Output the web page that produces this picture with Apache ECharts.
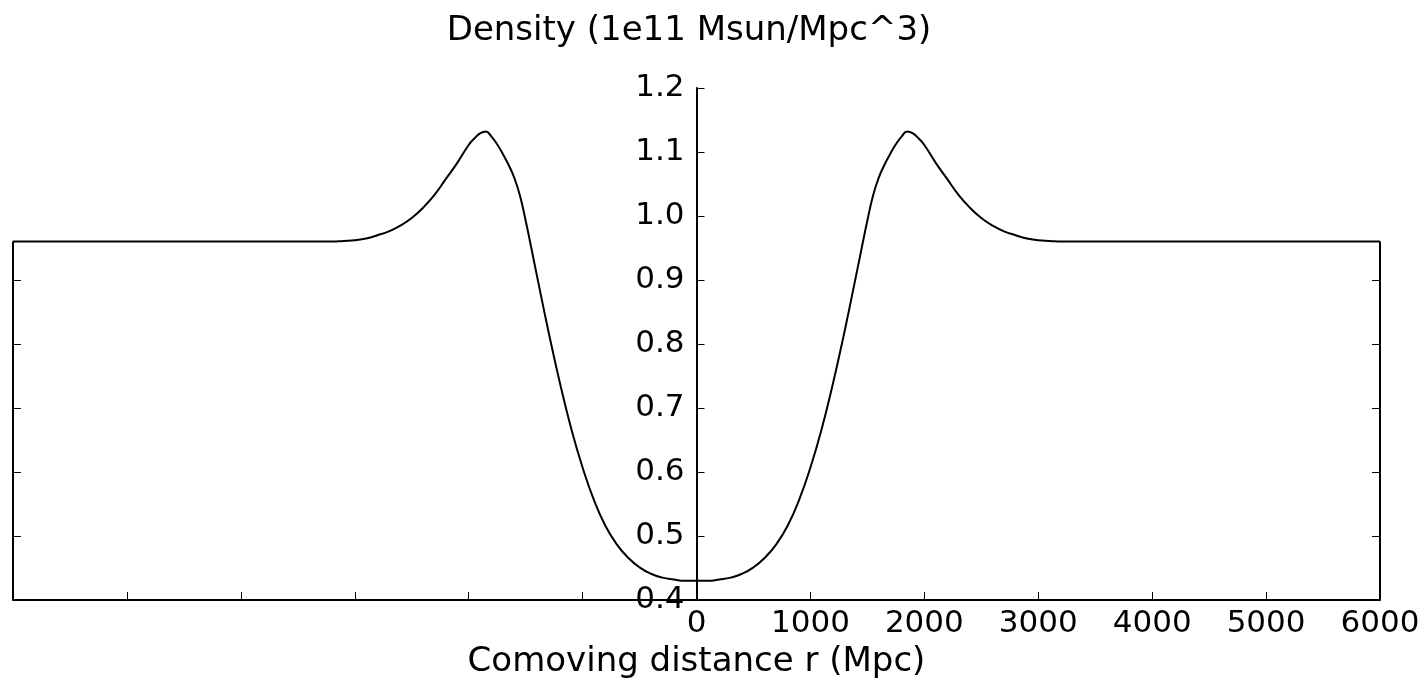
<!DOCTYPE html>
<html>
<head>
<meta charset="utf-8">
<script src="https://cdn.jsdelivr.net/npm/echarts@6/dist/echarts.min.js"></script>
<style>
html,body{margin:0;padding:0;background:#fff;}
#chart{width:1419px;height:685px;}
</style>
</head>
<body>
<div id="chart"></div>
<script>
// Comoving distance r (Mpc), right half (profile is symmetric about r = 0)
var radius = [0, 100, 200, 300, 400, 500, 600, 700, 800, 900, 1000, 1100, 1200, 1300, 1400, 1450, 1500, 1550, 1600, 1650, 1700, 1750, 1800, 1850, 1900, 1950, 2000, 2100, 2200, 2300, 2400, 2500, 2600, 2700, 2800, 2900, 3000, 3100, 3200, 3500, 4000, 5000, 6000];
// Density (1e11 Msun/Mpc^3)
var density = [0.430, 0.430, 0.432, 0.435, 0.441, 0.451, 0.466, 0.487, 0.516, 0.556, 0.607, 0.668, 0.740, 0.820, 0.906, 0.950, 0.993, 1.032, 1.060, 1.080, 1.097, 1.112, 1.124, 1.132, 1.129, 1.121, 1.111, 1.083, 1.058, 1.033, 1.013, 0.997, 0.985, 0.976, 0.970, 0.965, 0.962, 0.961, 0.960, 0.960, 0.960, 0.960, 0.960];

var xTicks = [-6000, -5000, -4000, -3000, -2000, -1000, 0, 1000, 2000, 3000, 4000, 5000, 6000];
var yTicks = [0.4, 0.5, 0.6, 0.7, 0.8, 0.9, 1.0, 1.1, 1.2];
var edgeTicks = [0.5, 0.6, 0.7, 0.8, 0.9];
var xMin = -6000, xMax = 6000, yMin = 0.4, yMax = 1.2;
var plateau = density[density.length - 1];

var titleText = 'Density (1e11 Msun/Mpc^3)';
var xName = 'Comoving distance r (Mpc)';

var curve = [];
for (var i = radius.length - 1; i > 0; i--) curve.push([-radius[i], density[i]]);
for (var j = 0; j < radius.length; j++) curve.push([radius[j], density[j]]);

var leftEdge = [[xMin, yMin], [xMin, plateau]];
var rightEdge = [[xMax, yMin], [xMax, plateau]];

var FONT = 'DejaVu Sans';
var FS = 31;   // tick labels
var NFS = 34;  // axis names

var W = 1419, GL = 13, GR = 39;
var halfWidth = (W - GL - GR) / 2;

var chart = echarts.init(document.getElementById('chart'));
chart.setOption({
  animation: false,
  backgroundColor: '#ffffff',
  grid: { left: GL, right: GR, top: 88, bottom: 85, containLabel: false, outerBoundsMode: 'none' },
  graphic: [{
    type: 'text', x: 689, y: 31,
    style: { text: titleText, font: NFS + 'px "' + FONT + '"', fill: '#000', textAlign: 'center', textVerticalAlign: 'middle' }
  }],
  xAxis: {
    type: 'value', min: xMin, max: xMax, interval: 1000,
    name: xName, nameLocation: 'middle', nameGap: 45,
    nameTextStyle: { fontFamily: FONT, fontSize: NFS, color: '#000' },
    axisLine: { onZero: false, lineStyle: { color: '#000', width: 2 } },
    axisTick: { inside: true, length: 8, lineStyle: { color: '#000', width: 1 } },
    axisLabel: {
      fontFamily: FONT, fontSize: FS, color: '#000', margin: 8,
      formatter: function (v) { return v >= 0 ? String(v) : ''; }
    },
    splitLine: { show: false }
  },
  yAxis: [{
    type: 'value', min: yMin, max: yMax, interval: 0.1, position: 'left', offset: -halfWidth,
    axisLine: { show: true, onZero: false, lineStyle: { color: '#000', width: 2 } },
    axisTick: { show: true, inside: true, length: 8, lineStyle: { color: '#000', width: 1 } },
    axisLabel: {
      fontFamily: FONT, fontSize: FS, color: '#000', margin: 12,
      formatter: function (v) { return v.toFixed(1); }
    },
    splitLine: { show: false }
  }, {
    type: 'value', min: yMin, max: yMax, interval: 0.1, position: 'left', offset: 0,
    axisLine: { show: false, onZero: false },
    axisTick: { show: true, inside: true, length: 8, customValues: edgeTicks, lineStyle: { color: '#000', width: 1 } },
    axisLabel: { show: false },
    splitLine: { show: false }
  }, {
    type: 'value', min: yMin, max: yMax, interval: 0.1, position: 'right', offset: 0,
    axisLine: { show: false, onZero: false },
    axisTick: { show: true, inside: true, length: 8, customValues: edgeTicks, lineStyle: { color: '#000', width: 1 } },
    axisLabel: { show: false },
    splitLine: { show: false }
  }],
  series: [{
    type: 'line', data: curve, showSymbol: false, smooth: 0.5,
    lineStyle: { color: '#000', width: 2 }, z: 5
  }, {
    type: 'line', data: leftEdge, showSymbol: false,
    lineStyle: { color: '#000', width: 2 }
  }, {
    type: 'line', data: rightEdge, showSymbol: false,
    lineStyle: { color: '#000', width: 2 }
  }]
});
</script>
</body>
</html>
